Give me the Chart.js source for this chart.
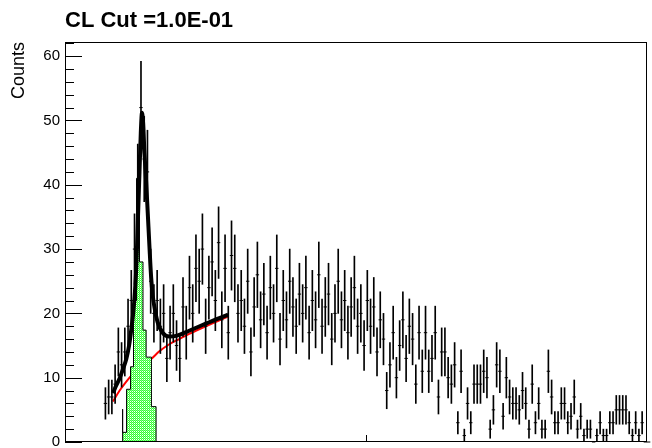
<!DOCTYPE html>
<html><head><meta charset="utf-8">
<script src="https://cdn.jsdelivr.net/npm/chart.js@4/dist/chart.umd.min.js"></script>
<style>html,body{margin:0;padding:0;background:#fff}#wrap{width:652px;height:448px;position:relative}</style>
</head><body><div id="wrap"><canvas id="c"></canvas></div>
<script>
// ---------- data ----------
const titleText = 'CL Cut =1.0E-01';
const yTitle = 'Counts';
const X_MIN = 0, X_MAX = 100;
const NBINS = 180;
const firstBin = 12;
const counts = [
 6,7,7,9,14,12,14,18,22,30,40,52,44,42,25,20,22,18,20,13,
 17,20,15,13,21,17,24,20,27,25,30,18,24,28,22,31,19,27,17,29,
 27,20,22,18,25,14,21,26,19,23,17,24,20,27,16,22,19,25,21,18,
 23,20,24,17,22,19,26,18,21,23,16,20,25,19,22,17,21,24,18,20,
 15,22,18,21,14,19,16,8,12,17,10,15,19,13,18,16,9,17,11,17,
 11,13,17,7,14,14,10,9,12,3,11,1,6,3,9,9,9,11,10,2,
 5,12,11,4,10,7,6,6,5,8,6,2,9,3,6,2,2,11,7,3,
 3,6,6,3,4,7,2,4,1,2,2,0,1,3,1,1,3,3,5,5,
 5,5,3,1,3,1,3,0,0,0,2,2,4,1
];
const signalEdges = [9.90, 10.58, 11.26, 11.77, 12.29, 12.80, 13.40, 13.94, 14.85, 15.65, 16.38];
const signalCounts = [5.1, 1.5, 8.2, 11.7, 22, 41, 28, 17.4, 13.2, 5.5];
const fitX = [8.24,8.70,9.39,9.95,10.53,11.01,11.38,11.77,12.03,12.29,12.54,12.80,13.02,13.23,13.43,13.65,13.94,14.22,14.51,14.80,15.07,15.36,15.92,16.77,17.92,19.06,21.33,24.18,28.04];
const fitY = [7.6,8.6,9.9,11.3,12.9,15.0,17.4,20.5,23.5,28,35,42,48,51.2,49.5,45,40.5,35.6,30.4,25.6,22.8,21,18.6,17.0,16.4,16.5,17.3,18.4,19.8];
const bkgX = [8.24,9.39,10.53,11.66,12.80,14.80,16.21,17.92,19.62,21.33,24.18,26.45,28.04];
const bkgY = [6.3,8.0,9.4,10.6,11.6,12.9,14.1,15.2,16.0,16.8,18.0,18.9,19.5];
const yTicks = [0,10,20,30,40,50,60];
const yMax = 62.2;
const xTicks = [51.7];

// ---------- build ----------
const binW = (X_MAX - X_MIN) / NBINS;
const errBars = counts.map((v, k) => {
  const c = X_MIN + (firstBin + k + 0.5) * binW, e = Math.sqrt(v);
  return {x: c, y: [v - e, v + e]};
});
const marks = counts.map((v, k) => ({x: X_MIN + (firstBin + k + 0.5) * binW, y: v}));
const sigPts = [{x: signalEdges[0], y: 0}];
signalCounts.forEach((v, k) => sigPts.push({x: signalEdges[k], y: v}));
sigPts.push({x: signalEdges[signalEdges.length - 1], y: 0});
const fitPts = fitX.map((x, k) => ({x, y: fitY[k]}));
const bkgPts = bkgX.map((x, k) => ({x, y: bkgY[k]}));

function greenPattern() {
  const p = document.createElement('canvas'); p.width = 2; p.height = 2;
  const g = p.getContext('2d');
  g.fillStyle = '#ffffff'; g.fillRect(0, 0, 2, 2);
  g.fillStyle = '#33ff33'; g.fillRect(0, 0, 1, 1); g.fillRect(1, 1, 1, 1);
  g.fillStyle = '#88ff88'; g.fillRect(1, 0, 1, 1);
  return g.createPattern(p, 'repeat');
}

const FONT = "'Liberation Sans', Arial, Helvetica, sans-serif";
const frame = {
  id: 'frame',
  afterDatasetsDraw(chart) {
    const {ctx, chartArea: a, scales: {x, y}} = chart;
    ctx.save();
    ctx.strokeStyle = '#000'; ctx.lineWidth = 1;
    ctx.strokeRect(a.left + 0.5, a.top + 0.5, a.right - a.left - 1, a.bottom - a.top - 1);
    ctx.beginPath();
    for (let v = 0; v <= yMax; v += 2) {
      const py = Math.round(y.getPixelForValue(v)) + 0.5;
      const len = (v % 10 === 0) ? 17 : 9;
      ctx.moveTo(a.left, py); ctx.lineTo(a.left + len, py);
    }
    xTicks.forEach(v => {
      const px = Math.round(x.getPixelForValue(v)) + 0.5;
      ctx.moveTo(px, a.bottom); ctx.lineTo(px, a.bottom - 7);
    });
    ctx.stroke();
    ctx.fillStyle = '#000';
    ctx.font = 'bold 22px ' + FONT;
    ctx.textBaseline = 'alphabetic'; ctx.textAlign = 'left';
    ctx.fillText(titleText, a.left, 27);
    ctx.restore();
  }
};

new Chart(document.getElementById('c'), {
  type: 'bar',
  data: {
    datasets: [
      {type: 'scatter', data: marks, pointStyle: 'line', pointRadius: 1.7, pointBorderWidth: 1,
       borderColor: '#000', backgroundColor: '#000', showLine: false, clip: false},
      {type: 'bar', data: errBars, backgroundColor: '#000', borderWidth: 0, barThickness: 1, grouped: false},
      {type: 'line', data: fitPts, borderColor: '#000', borderWidth: 4, pointRadius: 0,
       cubicInterpolationMode: 'monotone', fill: false},
      {type: 'line', data: sigPts, stepped: 'after', borderColor: '#000', borderWidth: 1, pointRadius: 0,
       fill: 'origin', backgroundColor: greenPattern()},
      {type: 'line', data: bkgPts, borderColor: '#ff0000', borderWidth: 2, pointRadius: 0,
       cubicInterpolationMode: 'monotone', fill: false}
    ]
  },
  options: {
    responsive: true, maintainAspectRatio: false, animation: false,
    layout: {padding: {top: 42, right: 1, left: 0, bottom: 0}},
    plugins: {legend: {display: false}, tooltip: {enabled: false}, title: {display: false}},
    scales: {
      x: {type: 'linear', min: X_MIN, max: X_MAX, offset: false,
          afterFit: s => { s.height = 6; s.paddingLeft = 0; s.paddingRight = 0; },
          ticks: {display: false}, grid: {display: false, drawTicks: false}, border: {display: false}},
      y: {type: 'linear', min: 0, max: yMax,
          afterFit: s => { s.width = 65; s.paddingTop = 0; s.paddingBottom = 0; },
          afterBuildTicks: s => { s.ticks = yTicks.map(v => ({value: v})); },
          ticks: {color: '#000', padding: 5, font: {family: FONT, size: 15}},
          grid: {display: false, drawTicks: false}, border: {display: false},
          title: {display: true, text: yTitle, align: 'end', color: '#000',
                  font: {family: FONT, size: 18}, padding: {top: 8, bottom: 0}}}
    }
  },
  plugins: [frame]
});
</script></body></html>
